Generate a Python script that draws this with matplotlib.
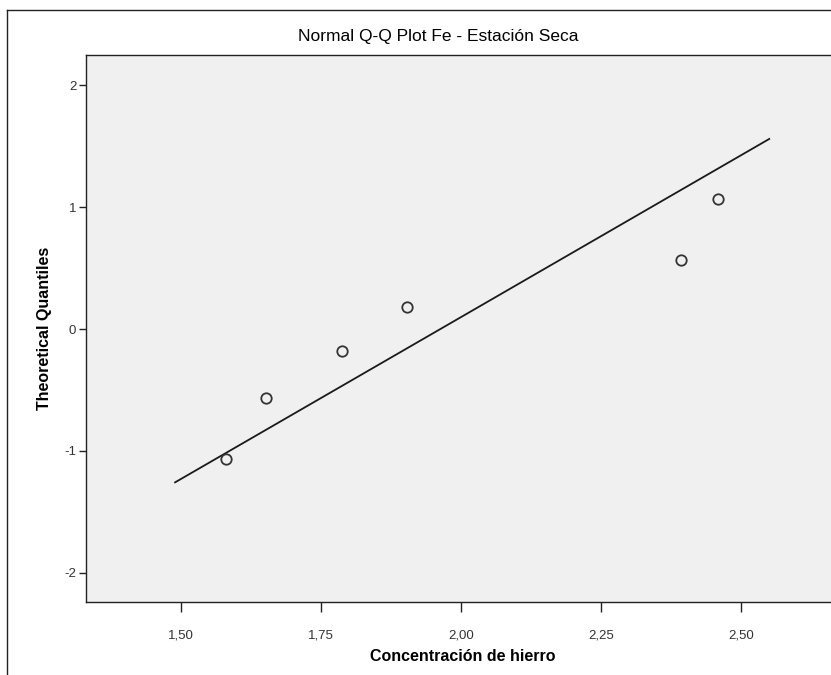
"""
Normal Q-Q plot (SPSS style) - Fe, estación seca.
"""

import numpy as np
import matplotlib
matplotlib.use("Agg")
import matplotlib.pyplot as plt
from matplotlib.lines import Line2D

OUTPUT_FILE = "out.png"

# observed iron concentrations (sorted) and their expected normal quantiles
hierro = [1.581, 1.653, 1.788, 1.904, 2.393, 2.459]
cuantiles = [-1.068, -0.566, -0.180, 0.180, 0.566, 1.068]

# x-range over which the reference line is drawn
linea_x = [1.49, 2.55]

x_ticks = [1.50, 1.75, 2.00, 2.25, 2.50]
x_labels = ["1,50", "1,75", "2,00", "2,25", "2,50"]
y_ticks = [-2, -1, 0, 1, 2]

plt.rcParams["font.family"] = ["Liberation Sans", "DejaVu Sans"]
plt.rcParams["axes.unicode_minus"] = False

W, H = 831, 675
fig = plt.figure(figsize=(W / 100, H / 100), dpi=100)
fig.patch.set_facecolor("white")

# outer chart frame (only left/top edges are inside the picture)
fx, fy = 7 / W, 1 - 10 / H
fig.add_artist(Line2D([fx, fx], [0, fy], transform=fig.transFigure,
                      color="#222222", lw=1.0))
fig.add_artist(Line2D([fx, 1], [fy, fy], transform=fig.transFigure,
                      color="#222222", lw=1.0))

ax = fig.add_axes([86 / W, 1 - 602 / H, 1 - 86 / W + 0.01, (602 - 55) / H])
ax.set_facecolor("#f0f0f0")

# reference line: z = (x - mean) / sd
mu = np.mean(hierro)
sd = np.std(hierro, ddof=1)
lx = np.array(linea_x)
ax.plot(lx, (lx - mu) / sd, color="#1a1a1a", lw=1.3, zorder=2)

ax.plot(hierro, cuantiles, linestyle="none", marker="o", ms=7.5,
        mfc="none", mec="#333333", mew=1.3, zorder=3)

ax.set_xlim(1.331, 2.675)
ax.set_ylim(-2.24, 2.25)
ax.set_xticks(x_ticks)
ax.set_xticklabels(x_labels)
ax.set_yticks(y_ticks)

for side in ["left", "bottom", "top"]:
    ax.spines[side].set_color("#222222")
    ax.spines[side].set_linewidth(1.0)
ax.spines["right"].set_visible(False)

ax.tick_params(axis="x", length=7, width=1, color="#222222",
               labelsize=9.5, labelcolor="#333333", pad=13)
ax.tick_params(axis="y", length=5, width=1, color="#222222",
               labelsize=9.5, labelcolor="#333333", pad=2)

ax.set_xlabel("Concentración de hierro", fontsize=11.5, fontweight="bold",
              labelpad=5)
ax.set_ylabel("Theoretical Quantiles", fontsize=11.5, fontweight="bold",
              labelpad=9)

fig.text(438 / W, 1 - 37 / H, "Normal Q-Q Plot Fe - Estación Seca",
         ha="center", va="center", fontsize=12.5)

fig.savefig(OUTPUT_FILE, dpi=100)
